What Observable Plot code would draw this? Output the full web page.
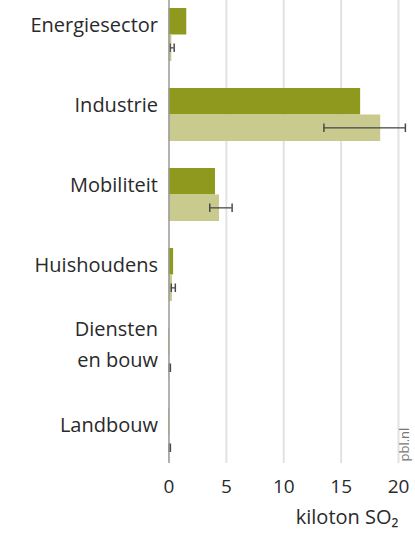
<!DOCTYPE html>
<html>
<head>
<meta charset="utf-8">
<script src="https://cdn.jsdelivr.net/npm/d3@7"></script>
<script src="https://cdn.jsdelivr.net/npm/@observablehq/plot@0.6"></script>
<style>
  html, body { margin: 0; padding: 0; background: #fff; }
  #chart svg { display: block; }
</style>
</head>
<body>
<div id="chart"></div>
<script>
// Categories (sectors) and values in kiloton SO2
const categories = ["Energiesector", "Industrie", "Mobiliteit", "Huishoudens", "Diensten\nen bouw", "Landbouw"];
const realisatie = [1.55, 16.7, 4.05, 0.4, 0.05, 0.05];
const raming = [0.25, 18.45, 4.4, 0.3, 0.05, 0.05];
const ramingLaag = [0.1, 13.5, 3.55, 0.2, 0.02, 0.02];
const ramingHoog = [0.45, 20.6, 5.5, 0.55, 0.12, 0.12];
const xTicks = [0, 5, 10, 15, 20];
const axisLabel = "kiloton SO\u2082";
const sourceLabel = "pbl.nl";

const rows = categories.map((c, i) => ({
  sector: c,
  realisatie: realisatie[i],
  raming: raming[i],
  laag: ramingLaag[i],
  hoog: ramingHoog[i]
}));

const dark = "#8e991d";
const light = "#c9ca8e";
const err = "#4a4a4a";

const chart = Plot.plot({
  width: 415,
  height: 544,
  marginTop: 0,
  marginLeft: 168.5,
  marginRight: 17,
  marginBottom: 81,
  style: {fontFamily: "'Open Sans', sans-serif", fontSize: "19px", color: "#2a2a2a", background: "#fff"},
  x: {domain: [0, 20], ticks: xTicks, tickSize: 0, tickPadding: 16, tickFormat: d3.format("d"), label: null},
  y: {domain: categories, axis: null, insetTop: 7, insetBottom: 2, paddingInner: 0.34, paddingOuter: 0},
  marks: [
    Plot.ruleX(xTicks.slice(1), {stroke: "#e2e2e2", strokeWidth: 2}),
    Plot.barX(rows, {x: "realisatie", y: "sector", fill: dark, insetBottom: 26.5}),
    Plot.barX(rows, {x: "raming", y: "sector", fill: light, insetTop: 26.5}),
    Plot.barX(rows, {x1: "laag", x2: "hoog", y: "sector", fill: err, insetTop: 39.2, insetBottom: 12.5}),
    Plot.tickX(rows, {x: "laag", y: "sector", stroke: err, strokeWidth: 1.5, insetTop: 35.5, insetBottom: 9}),
    Plot.tickX(rows, {x: "hoog", y: "sector", stroke: err, strokeWidth: 1.5, insetTop: 35.5, insetBottom: 9}),
    Plot.ruleX([0], {stroke: "#9a9a9a", strokeWidth: 1.5}),
    Plot.text(rows, {y: "sector", text: "sector", frameAnchor: "left", textAnchor: "end", dx: -11, dy: -13.2, lineHeight: 1.55, fill: "#2a2a2a", fontSize: 20}),
    Plot.text([axisLabel], {text: d => d, frameAnchor: "bottom-right", textAnchor: "end", dy: 60, fill: "#2a2a2a", fontSize: 20}),
    Plot.text([sourceLabel], {text: d => d, frameAnchor: "bottom-right", textAnchor: "start", rotate: -90, dx: 10, dy: -2, fill: "#777", fontSize: 13})
  ]
});
document.getElementById("chart").appendChild(chart);
</script>
</body>
</html>
